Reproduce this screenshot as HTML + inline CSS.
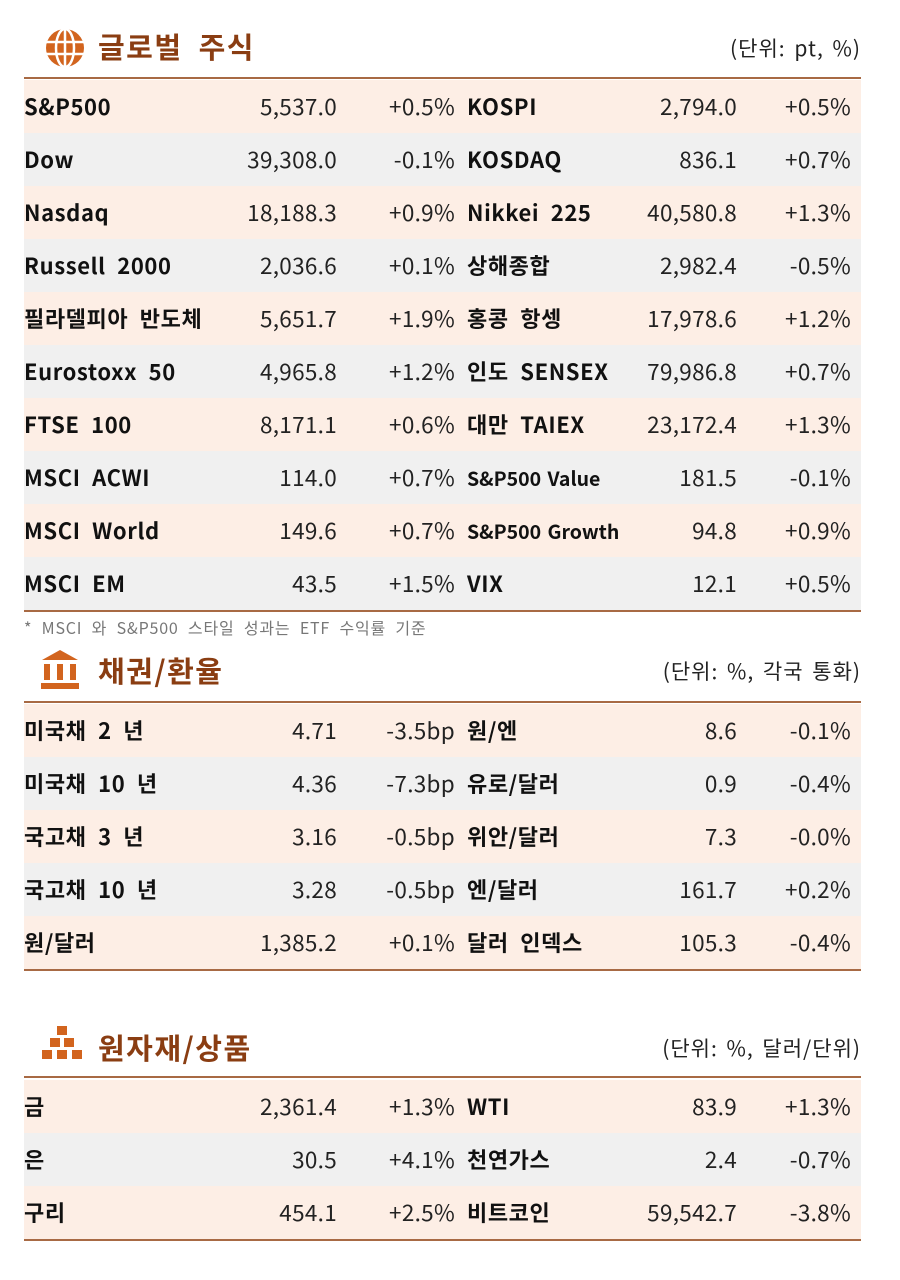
<!DOCTYPE html>
<html><head><meta charset="utf-8">
<style>
body{margin:0;width:900px;height:1280px;background:#fff;position:relative;overflow:hidden;font-family:"Liberation Sans","Noto Sans CJK KR",sans-serif;color:#111}
.title{position:absolute;left:98px;font-size:29px;font-weight:bold;color:#8a3d12;font-family:"Noto Sans CJK KR",sans-serif;line-height:1;letter-spacing:1.5px;word-spacing:8px}
.unit{position:absolute;right:39px;font-size:21px;color:#222;font-family:"Noto Sans CJK KR",sans-serif;line-height:1;letter-spacing:1px;word-spacing:3px}
.rule{position:absolute;left:24px;width:837px;height:2px;background:#a86a44}
.row{position:absolute;left:24px;width:837px;height:53px;font-family:"Noto Sans CJK KR",sans-serif}
.row span{position:absolute;top:0;line-height:53px;white-space:nowrap}
.n{font-weight:bold;font-size:22px;color:#111;letter-spacing:0.6px;word-spacing:6px}
.v{font-size:22.5px;color:#222;text-align:right;letter-spacing:0.3px}
.note{position:absolute;left:24px;top:615px;font-size:16px;color:#777;font-family:"Noto Sans CJK KR",sans-serif;letter-spacing:0.8px;word-spacing:5px}
</style></head><body>
<svg style="position:absolute;left:44px;top:28px" width="42" height="40" viewBox="0 0 42 40">
<circle cx="21" cy="20" r="19" fill="#d2641e"/>
<g stroke="#fff" stroke-width="2.5" fill="none"><ellipse cx="21" cy="20" rx="9" ry="19"/><line x1="21" y1="1" x2="21" y2="39"/><line x1="2" y1="14" x2="40" y2="14"/><line x1="2" y1="26" x2="40" y2="26"/></g></svg>
<div class="title" style="top:32px">글로벌 주식</div>
<div class="unit" style="top:38px">(단위: pt, %)</div>
<div class="rule" style="top:77px"></div>
<div class="note">* MSCI 와 S&amp;P500 스타일 성과는 ETF 수익률 기준</div>
<svg style="position:absolute;left:40px;top:648px" width="40" height="42" viewBox="0 0 40 42">
<polygon points="20,2 38,12 2,12" fill="#d2641e"/><rect x="4" y="16" width="6" height="16" fill="#d2641e"/><rect x="17" y="16" width="6" height="16" fill="#d2641e"/><rect x="30" y="16" width="6" height="16" fill="#d2641e"/><rect x="1" y="35" width="38" height="6" fill="#d2641e"/></svg>
<div class="title" style="top:656px">채권/환율</div>
<div class="unit" style="top:661px">(단위: %, 각국 통화)</div>
<div class="rule" style="top:701px"></div>
<svg style="position:absolute;left:40px;top:1025px" width="44" height="36" viewBox="0 0 44 36">
<g fill="#d2641e"><rect x="17" y="1" width="10" height="9"/><rect x="10" y="13" width="10" height="9"/><rect x="24" y="13" width="10" height="9"/><rect x="2" y="25" width="10" height="9"/><rect x="17" y="25" width="10" height="9"/><rect x="32" y="25" width="10" height="9"/></g></svg>
<div class="title" style="top:1033px">원자재/상품</div>
<div class="unit" style="top:1038px">(단위: %, 달러/단위)</div>
<div class="rule" style="top:1076px"></div>
<script>
const globalRows=[["S&P500","5,537.0","+0.5%","KOSPI","2,794.0","+0.5%"],["Dow","39,308.0","-0.1%","KOSDAQ","836.1","+0.7%"],["Nasdaq","18,188.3","+0.9%","Nikkei 225","40,580.8","+1.3%"],["Russell 2000","2,036.6","+0.1%","상해종합","2,982.4","-0.5%"],["필라델피아 반도체","5,651.7","+1.9%","홍콩 항셍","17,978.6","+1.2%"],["Eurostoxx 50","4,965.8","+1.2%","인도 SENSEX","79,986.8","+0.7%"],["FTSE 100","8,171.1","+0.6%","대만 TAIEX","23,172.4","+1.3%"],["MSCI ACWI","114.0","+0.7%","S&P500 Value","181.5","-0.1%"],["MSCI World","149.6","+0.7%","S&P500 Growth","94.8","+0.9%"],["MSCI EM","43.5","+1.5%","VIX","12.1","+0.5%"]];
const bondRows=[["미국채 2 년","4.71","-3.5bp","원/엔","8.6","-0.1%"],["미국채 10 년","4.36","-7.3bp","유로/달러","0.9","-0.4%"],["국고채 3 년","3.16","-0.5bp","위안/달러","7.3","-0.0%"],["국고채 10 년","3.28","-0.5bp","엔/달러","161.7","+0.2%"],["원/달러","1,385.2","+0.1%","달러 인덱스","105.3","-0.4%"]];
const commRows=[["금","2,361.4","+1.3%","WTI","83.9","+1.3%"],["은","30.5","+4.1%","천연가스","2.4","-0.7%"],["구리","454.1","+2.5%","비트코인","59,542.7","-3.8%"]];
function section(rows,top,pfx){
  rows.forEach((r,i)=>{
    const d=document.createElement('div');
    d.className='row';
    d.style.top=(top+i*53)+'px';
    d.style.background=i%2?'#f0f0f0':'#fdeee5';
    
    
    const cells=[['n',0,null],['v',null,524],['v',null,406],['n',443,null],['v',null,124],['v',null,10]];
    r.forEach((t,j)=>{
      const s=document.createElement('span');
      s.className=cells[j][0];
      if(cells[j][1]!==null)s.style.left=cells[j][1]+'px';else s.style.right=cells[j][2]+'px';
      if(t.length>11&&j===3){s.style.fontSize='19.5px';s.style.letterSpacing='0px';s.style.wordSpacing='2px';}
      s.textContent=t;
      
      
      d.appendChild(s);
    });
    document.body.appendChild(d);
  });
  const b=document.createElement('div');
  b.className='rule';
  b.style.top=(top+rows.length*53)+'px';
  
  
  document.body.appendChild(b);
}
section(globalRows,80,'global');
section(bondRows,704,'bonds');
section(commRows,1080,'commodities');
</script>
</body></html>
